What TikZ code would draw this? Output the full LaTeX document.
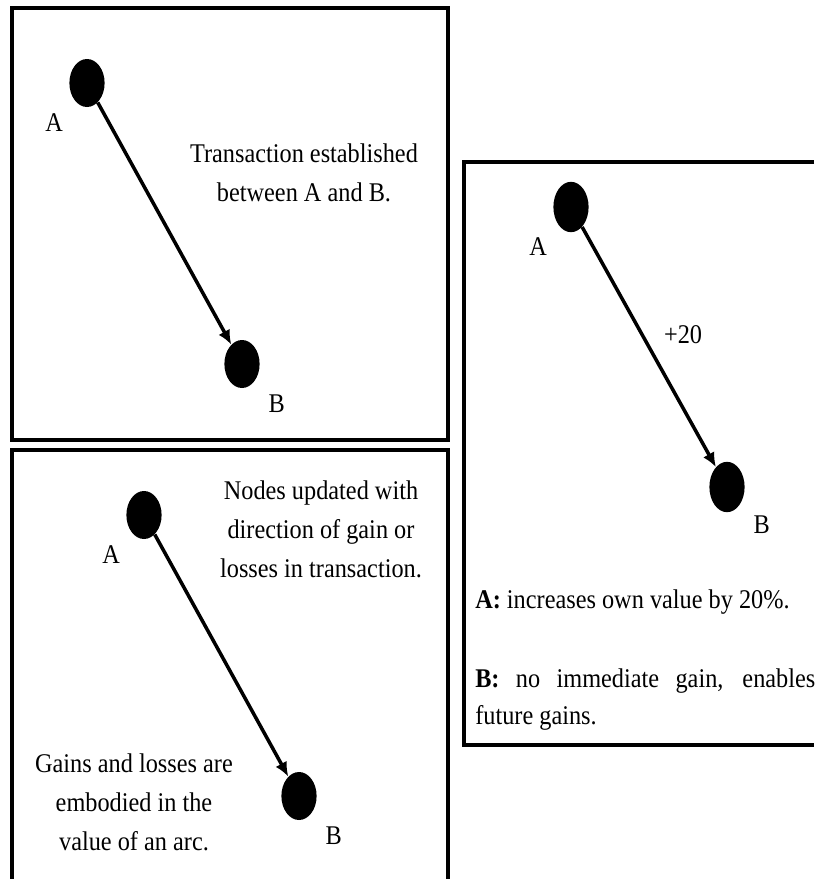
\documentclass[tikz,border=0pt]{standalone}
\usepackage{fontspec}
\setmainfont{Liberation Serif}[FakeStretch=0.9]
\usepackage{tikz}
\usetikzlibrary{arrows.meta,positioning,shapes.geometric}

\begin{document}
\begin{tikzpicture}[
  x=0.25mm, y=-0.25mm,
  panel/.style={draw=black, line width=2.8pt},
  dot/.style={ellipse, fill=black, minimum width=8.8mm, minimum height=12mm,
    inner sep=0pt},
  lbl/.style={inner sep=0pt, text=black,
    font=\fontsize{19.2pt}{27.7pt}\selectfont},
  note/.style={lbl, align=center},
  flow/.style={-{Latex[length=3.6mm, width=3.2mm]}, line width=2.5pt, draw=black}
]
  \useasboundingbox (0,0) rectangle (814,879);
  \draw[panel] (12,8) rectangle (448,440);
  \draw[panel] (12,879) |- (448,450) -- (448,879);
  \draw[panel] (814,162) -| (464,745) -- (814,745);

  \node[dot] (estA) at (87,83) {};
  \node[dot] (estB) at (242,364) {};
  \node[lbl, below left=3.3mm and 2.8mm of estA] (estAl) {A};
  \node[lbl, below right=3.3mm and 3.4mm of estB] (estBl) {B};
  \node[note] (estTxt) at (304,173) {Transaction established\\between A and B.};
  \draw[flow] (estA) -- (estB);

  \node[dot] (updA) at (144,515) {};
  \node[dot] (updB) at (299,796) {};
  \node[lbl, below left=3.3mm and 2.8mm of updA] (updAl) {A};
  \node[lbl, below right=3.3mm and 3.4mm of updB] (updBl) {B};
  \node[note] (updTxt) at (321,529) {Nodes updated with\\direction of gain or\\losses in transaction.};
  \node[note] (arcTxt) at (134,802) {Gains and losses are\\embodied in the\\value of an arc.};
  \draw[flow] (updA) -- (updB);

  \node[dot, minimum height=12.6mm] (gainA) at (571,207) {};
  \node[dot, minimum height=12.6mm] (gainB) at (727,487) {};
  \node[lbl, below left=3mm and 2.8mm of gainA] (gainAl) {A};
  \node[lbl, below right=2.6mm and 3.4mm of gainB] (gainBl) {B};
  \draw[flow] (gainA) -- node[lbl, pos=0.45, right=5mm] (gainVal) {+20} (gainB);
  \node[lbl, anchor=base west] (gainTxtA) at (475,608)
    {\textbf{A:} increases own value by 20\%.};
  \node[lbl, align=left, anchor=north west,
    font=\fontsize{19.2pt}{26.3pt}\selectfont] (gainTxtB) at (475,668.5)
    {\makebox[85mm][s]{\textbf{B:} no immediate gain, enables}\\future gains.};
\end{tikzpicture}
\end{document}
